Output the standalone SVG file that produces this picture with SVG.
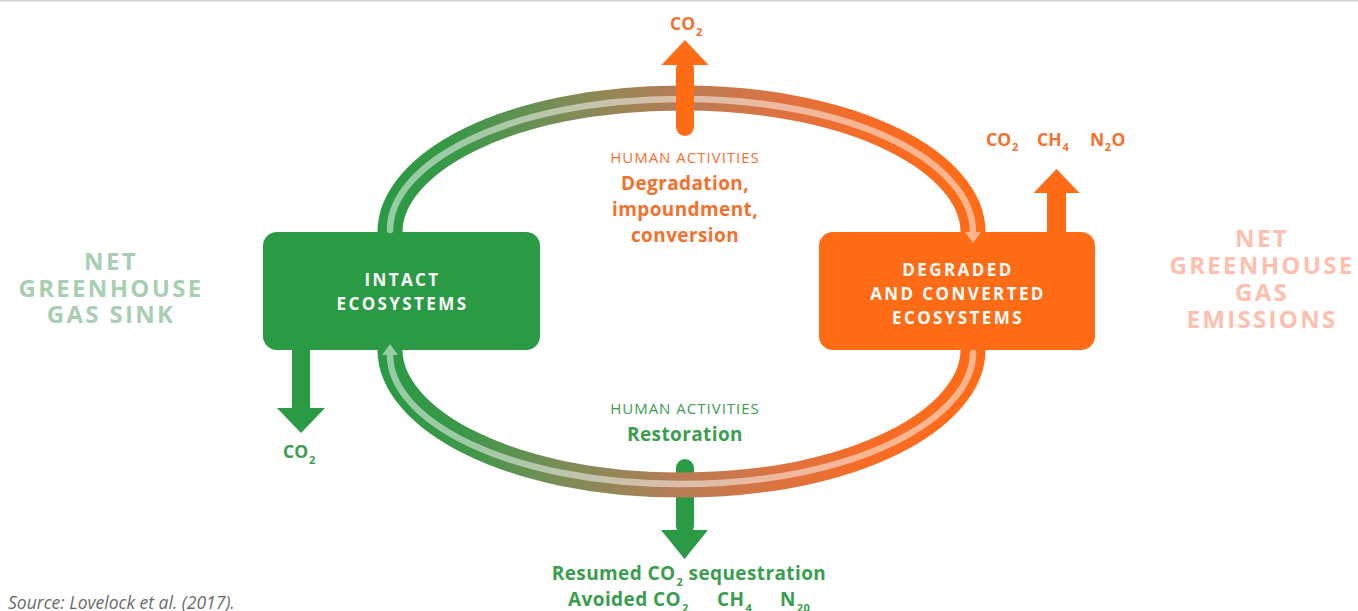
<svg xmlns="http://www.w3.org/2000/svg" width="1358" height="611" viewBox="0 0 1358 611">
  <style>
    text { font-family: "Open Sans", "Noto Sans", sans-serif; }
    .box-label { fill: #ffffff; font-size: 17px; font-weight: 700; letter-spacing: 2.4px; text-anchor: middle; }
    .side { font-size: 24px; font-weight: 700; letter-spacing: 2.3px; text-anchor: middle; }
    .sink { fill: #a9cfb3; }
    .emit { fill: #ffbfae; }
    .act { font-size: 15px; font-weight: 400; letter-spacing: 1px; text-anchor: middle; }
    .strong { font-size: 19px; font-weight: 700; letter-spacing: 0.4px; }
    .gas { font-size: 17.5px; font-weight: 700; }
    .sub { font-size: 11px; font-weight: 700; }
    .orange-t { fill: #f4712d; }
    .green-t { fill: #3a9d4f; }
    .arrow-o { fill: #ff6c15; }
    .arrow-g { fill: #2b9a45; }
    .ring { fill: none; stroke: url(#ringGrad); stroke-width: 25; }
    .stripe { fill: none; stroke: #ffffff; stroke-width: 6.5; stroke-linecap: round; }
  </style>
  <defs>
    <linearGradient id="ringGrad" gradientUnits="userSpaceOnUse" x1="390" y1="0" x2="973" y2="0">
      <stop offset="0" stop-color="#2a9a45"/>
      <stop offset="0.12" stop-color="#3b9848"/>
      <stop offset="0.3" stop-color="#7d8c57"/>
      <stop offset="0.5" stop-color="#b87c55"/>
      <stop offset="0.68" stop-color="#e0723f"/>
      <stop offset="0.82" stop-color="#f66c25"/>
      <stop offset="1" stop-color="#ff6b17"/>
    </linearGradient>
    <marker id="stripeHead" markerUnits="userSpaceOnUse" markerWidth="12" markerHeight="16" refX="0" refY="8" orient="auto" viewBox="0 0 12 16">
      <path d="M0,0 L11,8 L0,16 Z" fill="#ffffff"/>
    </marker>
  </defs>

  <rect x="0" y="0" width="1358" height="1.5" fill="#d4d4d4"/>

  <!-- side captions -->
  <g id="sink-caption">
    <text class="side sink" x="111" y="270">NET</text>
    <text class="side sink" x="111" y="297">GREENHOUSE</text>
    <text class="side sink" x="111" y="323">GAS SINK</text>
  </g>
  <g id="emissions-caption">
    <text class="side emit" x="1262" y="247">NET</text>
    <text class="side emit" x="1262" y="274">GREENHOUSE</text>
    <text class="side emit" x="1262" y="301">GAS</text>
    <text class="side emit" x="1262" y="328">EMISSIONS</text>
  </g>

  <!-- ecosystem nodes -->
  <g id="intact">
    <rect x="263" y="232" width="277" height="118" rx="14" fill="#2b9a45"/>
    <text class="box-label" x="402.5" y="286">INTACT</text>
    <text class="box-label" x="402.5" y="310">ECOSYSTEMS</text>
  </g>
  <g id="degraded">
    <rect x="819" y="232" width="276" height="118" rx="14" fill="#ff6c15"/>
    <text class="box-label" x="958" y="276">DEGRADED</text>
    <text class="box-label" x="958" y="300">AND CONVERTED</text>
    <text class="box-label" x="958" y="324">ECOSYSTEMS</text>
  </g>

  <!-- activity labels -->
  <g id="degradation-activities">
    <text class="act orange-t" x="685" y="163">HUMAN ACTIVITIES</text>
    <text class="strong orange-t" x="685" y="190" text-anchor="middle">Degradation,</text>
    <text class="strong orange-t" x="685" y="216" text-anchor="middle">impoundment,</text>
    <text class="strong orange-t" x="685" y="242" text-anchor="middle">conversion</text>
  </g>
  <g id="restoration-activities">
    <text class="act green-t" x="685" y="414">HUMAN ACTIVITIES</text>
    <text class="strong green-t" x="685" y="441" text-anchor="middle">Restoration</text>
  </g>

  <!-- connectors: cycle ring, flow stripes, gas flux arrows -->
  <g id="connectors">
    <!-- restoration outcome arrow sits beneath the ring -->
    <rect class="arrow-g" x="676" y="459" width="18" height="76" rx="9"/>
    <path class="arrow-g" d="M661,530 L708,530 L684.5,559 Z"/>

    <path class="ring" d="M390,232 C390,164 506,98 681.5,98 C857,98 973,164 973,232"/>
    <path class="ring" d="M973,350 C973,417.5 856.4,485 681.5,485 C506.6,485 390,417.5 390,350"/>

    <g opacity="0.5">
      <path class="stripe" d="M390,230 C390,164 506,99 681.5,99 C857,99 973,164 973,232" marker-end="url(#stripeHead)"/>
      <path class="stripe" d="M973,353 C973,417.5 856.4,484 681.5,484 C506.6,484 390,420 390,355" marker-end="url(#stripeHead)"/>
    </g>

    <!-- emission to the atmosphere from the cycle -->
    <rect class="arrow-o" x="676" y="60" width="18" height="76" rx="9"/>
    <path class="arrow-o" d="M661.5,65 L708.5,65 L685,40 Z"/>

    <!-- emissions from degraded ecosystems -->
    <rect class="arrow-o" x="1047" y="188" width="19" height="48"/>
    <path class="arrow-o" d="M1033.5,193 L1079.5,193 L1056.5,169 Z"/>

    <!-- uptake into intact ecosystems -->
    <rect class="arrow-g" x="292" y="345" width="18" height="66"/>
    <path class="arrow-g" d="M277,408 L325,408 L301,433 Z"/>
  </g>

  <!-- gas labels -->
  <g id="gas-labels">
    <text class="gas orange-t" x="670" y="30">CO<tspan class="sub" dx="1" dy="6">2</tspan></text>
    <text class="gas orange-t" y="146"><tspan x="986">CO</tspan><tspan class="sub" dx="1" dy="5">2</tspan><tspan x="1037" y="146">CH</tspan><tspan class="sub" dx="1" dy="5">4</tspan><tspan x="1090" y="146">N</tspan><tspan class="sub" dx="0.5" dy="5">2</tspan><tspan dx="0.5" y="146">O</tspan></text>
    <text class="gas green-t" x="283" y="458">CO<tspan class="sub" dx="1" dy="6">2</tspan></text>
    <text class="strong green-t" x="689" y="580" text-anchor="middle">Resumed CO<tspan class="sub" dx="1" dy="6">2</tspan><tspan dy="-6"> sequestration</tspan></text>
    <text class="strong green-t" y="606"><tspan x="568">Avoided CO</tspan><tspan class="sub" dx="1" dy="6">2</tspan><tspan x="717" y="606">CH</tspan><tspan class="sub" dx="1" dy="6">4</tspan><tspan x="780" y="606">N</tspan><tspan class="sub" dx="1" dy="6">20</tspan></text>
  </g>

  <text x="8" y="609" font-size="17.5" font-style="italic" fill="#6b6b6b">Source: Lovelock et al. (2017).</text>
</svg>
